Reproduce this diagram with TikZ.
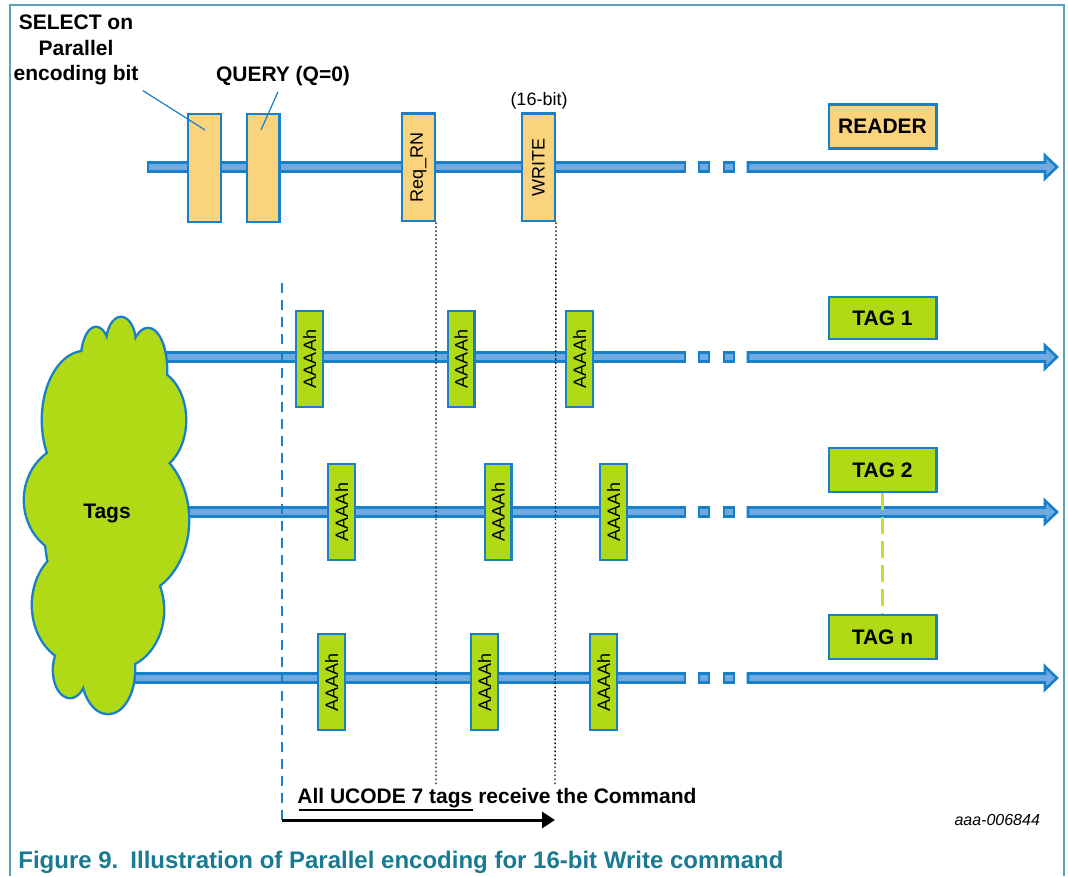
\documentclass[tikz,border=0pt]{standalone}
\usepackage{fontspec}
\setmainfont{Liberation Sans}
\usetikzlibrary{arrows.meta}
\definecolor{lineblue}{RGB}{24,128,200}
\definecolor{shaftblue}{RGB}{112,170,224}
\definecolor{readerorange}{RGB}{250,211,125}
\definecolor{taggreen}{RGB}{176,217,22}
\definecolor{linkgreen}{RGB}{196,224,48}
\definecolor{framecol}{RGB}{90,160,185}
\definecolor{captioncol}{RGB}{25,122,145}
\tikzset{shaft/.style={fill=shaftblue, draw=lineblue, line width=1.3pt},
  cmdbox/.style={draw=lineblue, line width=1.2pt, fill=readerorange, rotate=90,
    minimum width=53.8pt, minimum height=16.3pt, inner sep=0pt,
    font=\fontsize{9}{10}\selectfont},
  replybox/.style={draw=lineblue, line width=1.2pt, fill=taggreen, rotate=90,
    minimum width=47.8pt, minimum height=13.3pt, inner sep=0pt,
    font=\fontsize{9}{10}\selectfont},
  namebox/.style={draw=lineblue, line width=1.2pt, minimum width=53.8pt,
    minimum height=22pt, inner sep=0pt, font=\fontsize{10.5}{12}\selectfont\bfseries},
  lbl/.style={font=\fontsize{10.5}{12.8}\selectfont\bfseries, align=center, inner sep=0pt},
  leader/.style={draw=lineblue, line width=0.6pt},
  guide/.style={line width=0.7pt, dash pattern=on 0.8pt off 1.2pt}}
% one time axis: #1 = y, #2 = x where it starts
\newcommand{\timeline}[2]{%
  \draw[shaft] (#2,#1-4.5) rectangle (685,#1+4.5);
  \foreach \xa/\xb in {699/709,724/734}
    \draw[shaft] (\xa,#1-4.5) rectangle (\xb,#1+4.5);
  \draw[shaft] (748,#1-4.5) -- (1045,#1-4.5) -- (1045,#1-11.5) -- (1057,#1)
    -- (1045,#1+11.5) -- (1045,#1+4.5) -- (748,#1+4.5) -- cycle;}

\begin{document}
\begin{tikzpicture}[x=0.5pt, y=-0.5pt]
  \useasboundingbox (0,0) rectangle (1068,876);
  \draw[framecol, line width=0.75pt] (10,876) -- (10,5) -- (1064,5) -- (1064,876);

  % axes
  \timeline{167}{148}
  \timeline{357}{140}
  \timeline{512}{150}
  \timeline{678}{100}

  % cloud of tags
  \foreach \cx/\cy/\rx/\ry in {85/420/42/68, 96/360/14/32, 121/345/14/27, 148/370/18/41,
      150/420/35/50, 130/520/58/75, 75/500/50/55, 80/605/47/58, 115/610/48/58,
      108/670/26/43, 70/670/16/27, 105/520/60/120, 125/400/35/45}
    \draw[lineblue, line width=2.4pt] (\cx,\cy) ellipse [x radius=\rx, y radius=\ry];
  \foreach \cx/\cy/\rx/\ry in {85/420/42/68, 96/360/14/32, 121/345/14/27, 148/370/18/41,
      150/420/35/50, 130/520/58/75, 75/500/50/55, 80/605/47/58, 115/610/48/58,
      108/670/26/43, 70/670/16/27, 105/520/60/120, 125/400/35/45}
    \fill[taggreen] (\cx,\cy) ellipse [x radius=\rx, y radius=\ry];
  \node[lbl] (tags) at (107,513) {Tags};

  % reader commands
  \node[cmdbox] (sel) at (204.5,168) {};
  \node[cmdbox] (qry) at (263,168) {};
  \node[cmdbox] (reqrn) at (418.5,167.5) {Req\_RN};
  \node[cmdbox] (wrt) at (538.5,167.5) {WRITE};
  \node[font=\fontsize{9}{10}\selectfont, anchor=base] (bits) at (539,106) {(16-bit)};
  \node[namebox, fill=readerorange] (reader) at (882.5,126.5) {READER};

  \node[lbl] (sellbl) at (76,50) {SELECT on\\Parallel\\encoding bit};
  \node[lbl, anchor=base] (qrylbl) at (283,82) {QUERY (Q=0)};
  \coordinate (selpt) at (205,130);
  \coordinate (qrypt) at (261,130);
  \draw[leader] (sellbl.south east) ++(4,5) -- (selpt);
  \draw[leader] (qrylbl.south) ++(-5,5) -- (qrypt);

  % tag replies
  \foreach \x [count=\i] in {309.5,461,579.5}
    \node[replybox] (ra\i) at (\x,359) {AAAAh};
  \foreach \x [count=\i] in {341.5,498,613.5}
    \node[replybox] (rb\i) at (\x,512) {AAAAh};
  \foreach \x [count=\i] in {331.5,484.5,603.5}
    \node[replybox] (rc\i) at (\x,682) {AAAAh};
  \node[namebox, fill=taggreen, minimum height=20.8pt] (tag1) at (882.5,318) {TAG 1};
  \node[namebox, fill=taggreen] (tag2) at (882.5,470) {TAG 2};
  \node[namebox, fill=taggreen] (tagn) at (882.5,637) {TAG n};
  \draw[linkgreen, line width=1.2pt, dash pattern=on 8.5pt off 3.5pt] (tag2.south) -- (tagn.north);

  % timing guides
  \coordinate (g1) at (436,785);
  \coordinate (g2) at (555,785);
  \draw[guide] (reqrn.south west) -- (g1);
  \draw[guide] (wrt.south west) -- (g2);
  \coordinate (qtop) at (282,283);
  \coordinate (cmdstart) at (282,820);
  \coordinate (cmdend) at (555,820);
  \draw[lineblue, line width=1.2pt, dash pattern=on 5pt off 3.5pt] (qtop) -- (cmdstart);
  \draw[line width=1.5pt, -{Triangle[length=6.5pt, width=8pt]}] (cmdstart) -- (cmdend);
  \node[lbl, anchor=base west] (cmdtxt) at (297,803) {All UCODE 7 tags receive the Command};
  \draw[line width=1pt] (cmdtxt.base west) ++(2,7) -- ++(174,0);

  \node[font=\fontsize{8}{9}\selectfont\itshape, anchor=base east] (ref) at (1047,825) {aaa-006844};
  \node[font=\fontsize{12}{14}\selectfont\bfseries, text=captioncol, anchor=base west, inner sep=0pt]
    (caption) at (18,868) {Figure 9.\enspace Illustration of Parallel encoding for 16-bit Write command};
\end{tikzpicture}
\end{document}
